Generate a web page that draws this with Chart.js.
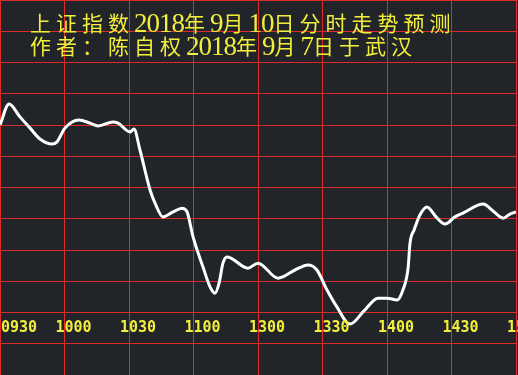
<!DOCTYPE html>
<html>
<head>
<meta charset="utf-8">
<script src="https://cdn.jsdelivr.net/npm/chart.js@4"></script>
<style>
  html, body { margin: 0; padding: 0; background: #212428; }
  canvas { display: block; }
</style>
</head>
<body>
<canvas id="trendChart" width="518" height="375"></canvas>
<script>
// title text (drawn over the plot)
var titleLines = ['上证指数2018年9月10日分时走势预测', '作者：陈自权2018年9月7日于武汉'];

// time axis: trading minutes since 09:30 (0930-1130, 1300-1500)
var timeLabels = ['0930', '1000', '1030', '1100', '1300', '1330', '1400', '1430', '1500'];
var labelMinutes = [0, 30, 60, 90, 120, 150, 180, 210, 240];

// predicted curve (level in grid units)
var minutes = [0, 4.2, 9.3, 14, 18.6, 24.2, 26.5, 30.2, 36.7, 41.9, 45.6, 52.6, 54.9, 60.5, 62.3,
  65.1, 69.8, 72.1, 75.8, 80.5, 84.7, 87, 89.8, 94.4, 97.7, 100, 101.9, 103.7, 105.6, 115.3, 120,
  129.3, 137.2, 143.3, 147.4, 152.1, 156.7, 162.8, 169.3, 175.8, 180, 184.7, 187.4, 189.8, 190.7,
  192.6, 195.3, 198.6, 202.8, 207, 211.6, 215.3, 224.7, 229.3, 234, 237.2, 240];
var levels = [8.0, 8.67, 8.26, 7.9, 7.55, 7.39, 7.46, 7.9, 8.16, 8.06, 7.97, 8.1, 8.06, 7.78, 7.87,
  7.2, 5.92, 5.5, 5.06, 5.22, 5.34, 5.22, 4.42, 3.46, 2.82, 2.62, 2.94, 3.58, 3.78, 3.42, 3.58,
  3.1, 3.36, 3.52, 3.36, 2.72, 2.18, 1.63, 2.05, 2.46, 2.46, 2.4, 2.72, 3.42, 4.22,
  4.64, 5.12, 5.38, 5.06, 4.83, 5.06, 5.18, 5.47, 5.25, 5.02, 5.15, 5.22];

var textColor = '#f2ee3c';
var gridColor = '#e02a2a';

var points = minutes.map(function (m, i) { return { x: m, y: levels[i] }; });

var backgroundPlugin = {
  id: 'background',
  beforeDraw: function (chart) {
    var c = chart.ctx;
    c.save();
    c.fillStyle = '#212428';
    c.fillRect(0, 0, chart.width, chart.height);
    c.restore();
  }
};

var textPlugin = {
  id: 'overlayText',
  afterDraw: function (chart) {
    var c = chart.ctx;
    var xScale = chart.scales.x;
    c.save();
    c.fillStyle = textColor;

    // title, fixed pitch like the original font
    c.textBaseline = 'alphabetic';
    titleLines.forEach(function (line, row) {
      var x = 30;
      var base = 31 + row * 23;
      for (var k = 0; k < line.length; k++) {
        var ch = line[k];
        if (ch.charCodeAt(0) < 256) {
          c.font = '27px "Liberation Serif"';
          c.fillText(ch, x, base + 1);
          x += 12.5;
        } else {
          c.font = '21px "Noto Sans CJK SC"';
          c.fillText(ch, x, base);
          x += 26;
        }
      }
    });

    // time labels inside the plot
    c.font = 'bold 15px "DejaVu Sans Mono"';
    c.textBaseline = 'middle';
    c.textAlign = 'left';
    timeLabels.forEach(function (t, i) {
      var x = Math.max(1, xScale.getPixelForValue(labelMinutes[i]) - 9);
      c.fillText(t, x, 328);
    });
    c.restore();
  }
};

var ctx = document.getElementById('trendChart').getContext('2d');
var trendChart = new Chart(ctx, {
  type: 'line',
  data: {
    datasets: [{
      data: points,
      borderColor: '#ffffff',
      borderWidth: 3,
      pointRadius: 0,
      fill: false,
      cubicInterpolationMode: 'monotone'
    }]
  },
  options: {
    responsive: false,
    animation: false,
    layout: { padding: { right: 2 } },
    plugins: {
      legend: { display: false },
      tooltip: { enabled: false }
    },
    scales: {
      x: {
        type: 'linear',
        min: 0,
        max: 240,
        ticks: { display: false, stepSize: 30 },
        grid: { color: gridColor, drawTicks: false },
        border: { display: false }
      },
      y: {
        min: 0,
        max: 12,
        ticks: { display: false, stepSize: 1 },
        grid: { color: gridColor, drawTicks: false },
        border: { display: false }
      }
    }
  },
  plugins: [backgroundPlugin, textPlugin]
});
</script>
</body>
</html>
